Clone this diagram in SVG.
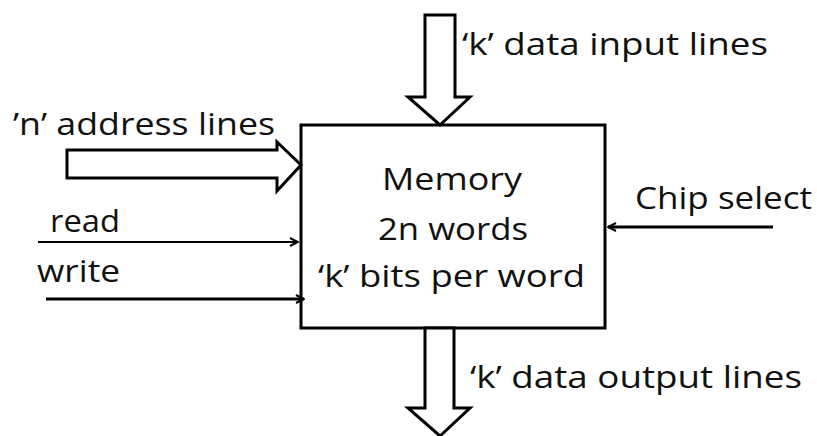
<svg xmlns="http://www.w3.org/2000/svg" width="817" height="436" viewBox="0 0 817 436">
<defs>
<style>
text{font-family:"Open Sans","Liberation Sans",Arial,sans-serif;font-size:31px;fill:#111}
.big{fill:#fff;stroke:#000;stroke-width:3;stroke-linejoin:miter}
.ln{stroke:#000;fill:none}
</style>
<marker id="chev" viewBox="0 0 10 10" refX="9" refY="5" markerWidth="10" markerHeight="10" markerUnits="userSpaceOnUse" orient="auto">
<path d="M1,1 L9,5 L1,9" fill="none" stroke="#000" stroke-width="2"/>
</marker>
</defs>
<rect width="817" height="436" fill="#fff"/>
<g id="memory">
<rect x="301" y="125" width="304" height="203" fill="#fff" stroke="#000" stroke-width="3"/>
<text x="452" y="190" text-anchor="middle" textLength="140" lengthAdjust="spacingAndGlyphs">Memory</text>
<text x="453" y="240" text-anchor="middle" textLength="150" lengthAdjust="spacingAndGlyphs">2n words</text>
<text x="318" y="287" textLength="267" lengthAdjust="spacingAndGlyphs">‘k’ bits per word</text>
</g>
<g id="connectors">
<path id="data-in" class="big" d="M425,15 L455,15 L455,97 L470,97 L440,125 L408,97 L425,97 Z"/>
<path id="data-out" class="big" d="M425,328 L454,328 L454,408 L470,408 L440,436 L408,408 L425,408 Z"/>
<path id="addr" class="big" d="M67,150 L277,150 L277,142 L301,165 L277,191 L277,178 L67,178 Z"/>
<line id="read" class="ln" x1="38" y1="242" x2="298" y2="242" stroke-width="2" marker-end="url(#chev)"/>
<line id="write" class="ln" x1="46" y1="299" x2="304" y2="299" stroke-width="3" marker-end="url(#chev)"/>
<line id="cs" class="ln" x1="773" y1="227" x2="608" y2="227" stroke-width="3" marker-end="url(#chev)"/>
</g>
<g id="labels">
<text x="462" y="55" textLength="306" lengthAdjust="spacingAndGlyphs">‘k’ data input lines</text>
<text x="470" y="388" textLength="332" lengthAdjust="spacingAndGlyphs">‘k’ data output lines</text>
<text x="13" y="135" textLength="262" lengthAdjust="spacingAndGlyphs">’n’ address lines</text>
<text x="50" y="232" textLength="70" lengthAdjust="spacingAndGlyphs">read</text>
<text x="37" y="282" textLength="83" lengthAdjust="spacingAndGlyphs">write</text>
<text x="635" y="209" textLength="177" lengthAdjust="spacingAndGlyphs">Chip select</text>
</g>
</svg>
